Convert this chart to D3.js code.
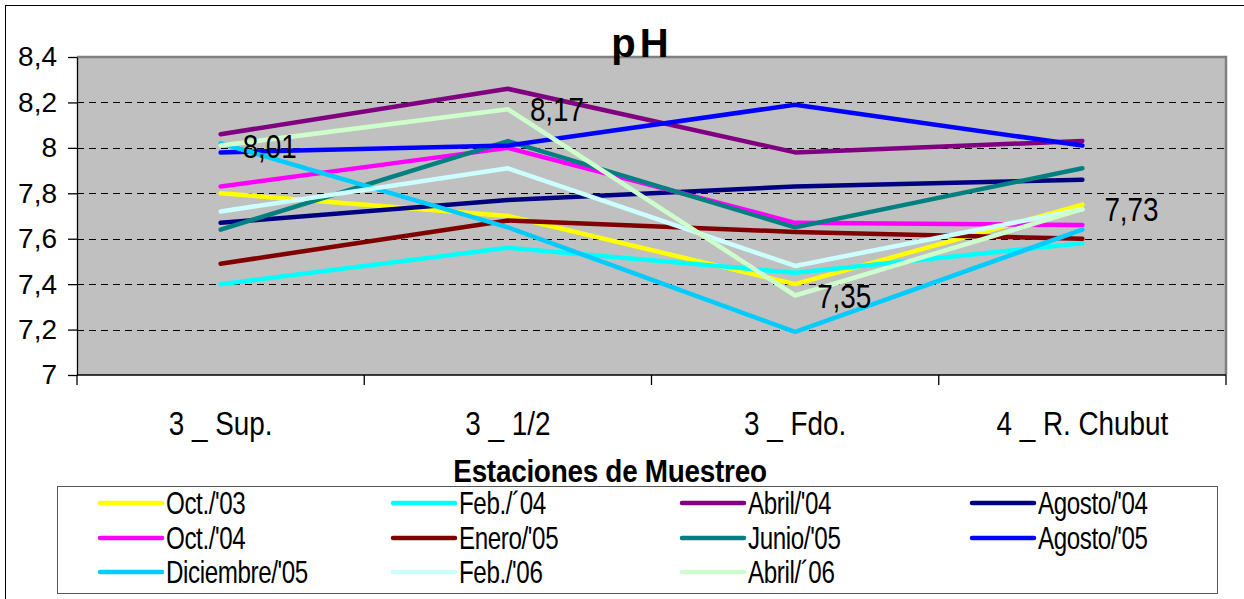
<!DOCTYPE html>
<html>
<head>
<meta charset="utf-8">
<script src="https://cdn.jsdelivr.net/npm/d3@7"></script>
<style>
  body { margin: 0; background: #fff; }
  text { font-family: "Liberation Sans", Arial, sans-serif; fill: #000; }
</style>
</head>
<body>
<svg id="chart"></svg>
<script>
// stations (x categories)
const stations = ["3 _ Sup.", "3 _ 1/2", "3 _ Fdo.", "4 _ R. Chubut"];

// y ticks
const yTicks = [7, 7.2, 7.4, 7.6, 7.8, 8, 8.2, 8.4];

// series names, colours and values (pH per station)
const seriesNames = ["Oct./'03", "Feb./´04", "Abril/'04", "Agosto/'04", "Oct./'04", "Enero/'05",
                     "Junio/'05", "Agosto/'05", "Diciembre/'05", "Feb./'06", "Abril/´06"];
const seriesColors = ["#FFFF00", "#00FFFF", "#800080", "#000080", "#FF00FF", "#800000",
                      "#008080", "#0000FF", "#00CCFF", "#CCFFFF", "#CCFFCC"];

const oct03 = [7.80, 7.70, 7.40, 7.75];
const feb04 = [7.40, 7.56, 7.45, 7.58];
const abr04 = [8.06, 8.26, 7.98, 8.03];
const ago04 = [7.67, 7.77, 7.83, 7.86];
const oct04 = [7.83, 8.00, 7.67, 7.66];
const ene05 = [7.49, 7.68, 7.63, 7.60];
const jun05 = [7.64, 8.03, 7.65, 7.91];
const ago05 = [7.98, 8.01, 8.19, 8.01];
const dic05 = [8.02, 7.65, 7.19, 7.64];
const feb06 = [7.72, 7.91, 7.48, 7.73];
const abr06 = [8.01, 8.17, 7.35, 7.73];

const seriesValues = [oct03, feb04, abr04, ago04, oct04, ene05, jun05, ago05, dic05, feb06, abr06];

// only the last series carries data labels
const labelledSeries = 10;

// horizontal squeeze used for the condensed-looking texts
const squeeze = 0.82;

class PhChart {

    constructor(_config) {
        this.config = {
            parentElement: _config.parentElement,
            containerWidth: 1244,
            containerHeight: 599,
            plot: { left: 77, right: 1226, top: 57, bottom: 375 }
        };
        this.data = seriesNames.map((name, i) => ({
            name: name,
            color: seriesColors[i],
            values: seriesValues[i].map((v, j) => ({ station: stations[j], value: v }))
        }));
        this.initVis();
    }

    initVis() {
        let vis = this;
        const p = vis.config.plot;

        vis.svg = d3.select(vis.config.parentElement)
            .attr('width', vis.config.containerWidth)
            .attr('height', vis.config.containerHeight);

        // outer frame
        vis.svg.append('rect')
            .attr('x', 5.5).attr('y', 5.5)
            .attr('width', 1300).attr('height', 700)
            .attr('fill', 'none').attr('stroke', '#000').attr('stroke-width', 1);

        vis.xScale = d3.scaleBand()
            .domain(stations)
            .range([p.left, p.right]);

        vis.yScale = d3.scaleLinear()
            .domain([7, 8.4])
            .range([p.bottom, p.top]);

        vis.renderVis();
    }

    renderVis() {
        let vis = this;
        const p = vis.config.plot;
        const xc = d => vis.xScale(d) + vis.xScale.bandwidth() / 2;
        const sq = (x, y, k = squeeze) => `translate(${x},${y}) scale(${k},1)`;

        // plot background
        vis.svg.append('rect')
            .attr('x', p.left).attr('y', p.top)
            .attr('width', p.right - p.left).attr('height', p.bottom - p.top)
            .attr('fill', '#C0C0C0');

        // gridlines
        vis.svg.append('g')
            .selectAll('line')
            .data(yTicks.filter(t => t > 7 && t < 8.4))
            .join('line')
                .attr('x1', p.left).attr('x2', p.right)
                .attr('y1', d => Math.round(vis.yScale(d)) + 0.5)
                .attr('y2', d => Math.round(vis.yScale(d)) + 0.5)
                .attr('stroke', '#000')
                .attr('stroke-dasharray', '7,5');

        // gray frame top / right
        vis.svg.append('path')
            .attr('d', `M${p.left},${p.top} H${p.right} V${p.bottom}`)
            .attr('fill', 'none').attr('stroke', '#808080').attr('stroke-width', 2.5);

        // y axis
        const yAxis = d3.axisLeft(vis.yScale)
            .tickValues(yTicks)
            .tickSize(9)
            .tickSizeOuter(0)
            .tickPadding(11)
            .tickFormat(d => d3.format('~g')(d).replace('.', ','));

        const yg = vis.svg.append('g')
            .attr('transform', `translate(${p.left},0)`)
            .call(yAxis);
        yg.selectAll('text').style('font-size', '28px').attr('font-family', null);
        yg.selectAll('line, path').attr('stroke', '#000').attr('stroke-width', 1.3);

        // x axis (ticks at band edges)
        const xg = vis.svg.append('g')
            .attr('transform', `translate(0,${p.bottom})`);
        xg.append('line')
            .attr('x1', p.left).attr('x2', p.right)
            .attr('stroke', '#000').attr('stroke-width', 1.5);
        xg.selectAll('line.tick')
            .data(stations.concat(['end']))
            .join('line')
                .attr('class', 'tick')
                .attr('x1', (d, i) => i < stations.length ? vis.xScale(d) : p.right)
                .attr('x2', (d, i) => i < stations.length ? vis.xScale(d) : p.right)
                .attr('y1', 0).attr('y2', 10)
                .attr('stroke', '#000').attr('stroke-width', 1.3);
        xg.selectAll('text')
            .data(stations)
            .join('text')
                .attr('transform', d => sq(xc(d), 60))
                .attr('text-anchor', 'middle')
                .style('font-size', '34px')
                .text(d => d);

        // series lines
        const line = d3.line()
            .x(d => xc(d.station))
            .y(d => vis.yScale(d.value));

        vis.svg.append('g')
            .selectAll('path')
            .data(vis.data)
            .join('path')
                .attr('d', d => line(d.values))
                .attr('fill', 'none')
                .attr('stroke', d => d.color)
                .attr('stroke-width', 4.5)
                .attr('stroke-linejoin', 'round')
                .attr('stroke-linecap', 'round');

        // data labels
        vis.svg.append('g')
            .selectAll('text')
            .data(vis.data[labelledSeries].values)
            .join('text')
                .attr('transform', d => sq(xc(d.station) + 22, vis.yScale(d.value)))
                .attr('dy', '0.36em')
                .style('font-size', '34px')
                .text(d => d3.format('.2f')(d.value).replace('.', ','));

        // title
        vis.svg.append('text')
            .attr('x', 642).attr('y', 57)
            .attr('text-anchor', 'middle')
            .style('font-size', '40px').style('font-weight', 'bold')
            .style('letter-spacing', '4px')
            .text('pH');

        // x axis title
        vis.svg.append('text')
            .attr('transform', sq(610, 482, 0.9))
            .attr('text-anchor', 'middle')
            .style('font-size', '31px').style('font-weight', 'bold')
            .style('letter-spacing', '-0.3px')
            .text('Estaciones de Muestreo');

        // legend
        const legend = vis.svg.append('g');
        legend.append('rect')
            .attr('x', 57.5).attr('y', 486.5)
            .attr('width', 1160).attr('height', 107)
            .attr('fill', '#fff').attr('stroke', '#555').attr('stroke-width', 1);

        const colX = [100, 393, 682, 972];
        const rowY = [503, 538, 572];
        const items = legend.selectAll('g.item')
            .data(vis.data)
            .join('g')
                .attr('class', 'item')
                .attr('transform', (d, i) => `translate(${colX[i % 4]},${rowY[Math.floor(i / 4)]})`);
        items.append('line')
            .attr('x1', 0).attr('x2', 62)
            .attr('stroke', d => d.color)
            .attr('stroke-width', 4.5)
            .attr('stroke-linecap', 'round');
        items.append('text')
            .attr('transform', sq(66, 0, 0.78))
            .attr('dy', '0.36em')
            .style('font-size', '31px')
            .style('letter-spacing', '-0.5px')
            .text(d => d.name);
    }
}

new PhChart({ parentElement: '#chart' });
</script>
</body>
</html>
